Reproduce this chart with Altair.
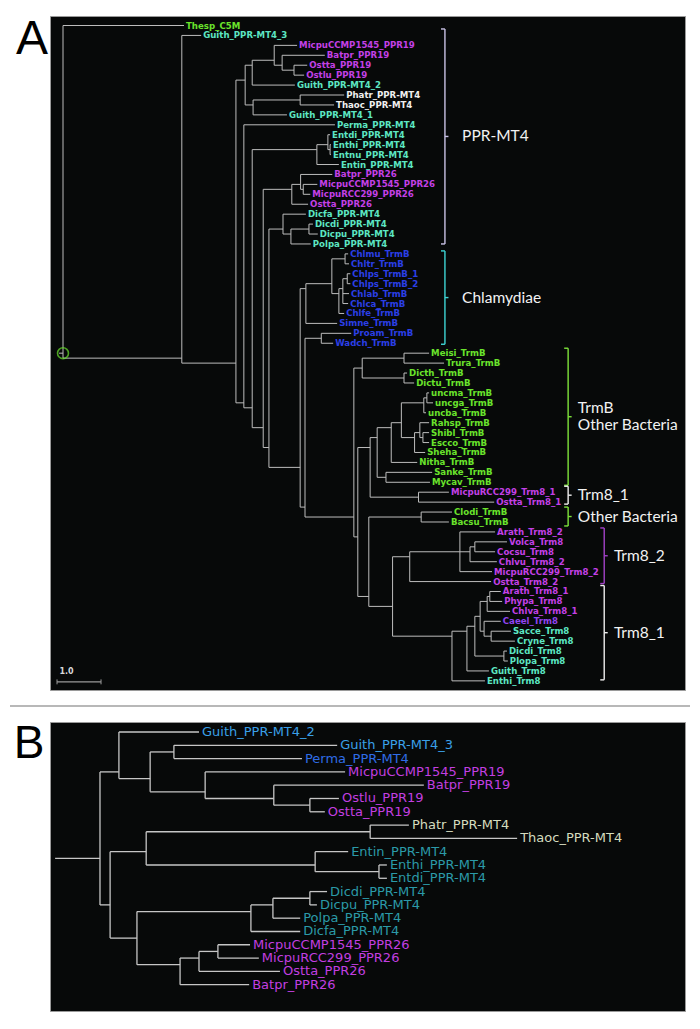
import altair as alt
import pandas as pd

# ---------------------------------------------------------------- data
# internal node = N(depth, children...), leaf = "name:depth"
# depth = distance from the root, in units of the 1.0 scale bar
def N(depth, *kids):
    return (depth, kids)

# ---- panel A, built clade by clade
A_PPR19 = N(4.80, "MicpuCCMP1545_PPR19:5.32",
            N(4.98, "Batpr_PPR19:5.95",
              N(5.25, "Ostta_PPR19:5.55", "Ostlu_PPR19:5.48")))
A_G1 = N(4.14,
         N(4.30, A_PPR19, "Guith_PPR-MT4_2:5.27"),
         N(4.32, N(5.39, "Phatr_PPR-MT4:6.39", "Thaoc_PPR-MT4:6.16"), "Guith_PPR-MT4_1:5.09"))
A_ENT = N(5.77,
          N(6.02, "Entdi_PPR-MT4:6.07", N(6.07, "Enthi_PPR-MT4:6.09", "Entnu_PPR-MT4:6.09")),
          "Entin_PPR-MT4:6.27")
A_PPR26 = N(5.20,
            N(5.40, "Batpr_PPR26:6.12", N(5.46, "MicpuCCMP1545_PPR26:5.78", "MicpuRCC299_PPR26:5.62")),
            "Ostta_PPR26:5.57")
A_DIC = N(5.00, "Dicfa_PPR-MT4:5.52",
          N(5.18, N(5.59, "Dicdi_PPR-MT4:5.68", "Dicpu_PPR-MT4:5.79"), "Polpa_PPR-MT4:5.63"))
A_CHL = N(5.52,
          N(6.11,
            N(6.41, "Chlmu_TrmB:6.48", "Chltr_TrmB:6.50"),
            N(6.27,
              N(6.36, N(6.46, "Chlps_TrmB_1:6.53", "Chlps_TrmB_2:6.53"), "Chlab_TrmB:6.50", "Chlca_TrmB:6.48"),
              "Chlfe_TrmB:6.39")),
          "Simne_TrmB:6.23")
A_MD = N(6.80, N(7.75, "Meisi_TrmB:8.32", "Trura_TrmB:8.66"),
         N(7.75, "Dicth_TrmB:7.82", "Dictu_TrmB:7.98"))
A_ENTERO = N(7.14,
             N(7.46,
               N(7.69,
                 N(8.20, N(8.27, "uncma_TrmB:8.32", "uncga_TrmB:8.41"), "uncba_TrmB:8.25"),
                 N(7.99, N(8.11, "Rahsp_TrmB:8.32", N(8.18, "Shibl_TrmB:8.32", "Escco_TrmB:8.32")),
                   "Sheha_TrmB:8.23")),
               "Nitha_TrmB:8.05"),
             N(7.34, "Sanke_TrmB:8.39", "Mycav_TrmB:8.34"))
A_TRM81 = N(8.08, "MicpuRCC299_Trm8_1:8.77", "Ostta_Trm8_1:9.80")
A_TRM82 = N(7.88,
            N(9.02, "Arath_Trm8_2:9.82",
              N(9.25, N(9.36, "Volca_Trm8:10.09", "Cocsu_Trm8:9.82"), "Chlvu_Trm8_2:9.86"),
              "MicpuRCC299_Trm8_2:9.75"),
            "Ostta_Trm8_2:9.73")
A_TRM8B = N(8.84,
            N(9.18,
              N(9.36,
                N(9.48,
                  N(9.64, N(9.70, "Arath_Trm8_1:9.95", "Phypa_Trm8:9.98"), "Chlva_Trm8_1:10.16"),
                  N(9.57, "Caeel_Trm8:9.95", N(9.73, "Sacce_Trm8:10.18", "Cryne_Trm8:10.27"))),
                N(10.02, "Dicdi_Trm8:10.09", "Plopa_Trm8:10.11")),
              "Guith_Trm8:9.68"),
            "Enthi_Trm8:9.59")
A_BACT = N(6.61, A_MD,
           N(6.70,
             N(6.98, A_ENTERO, A_TRM81),
             N(6.95, N(8.14, "Clodi_TrmB:8.84", "Bacsu_TrmB:8.77"),
               N(7.49, A_TRM82, A_TRM8B))))
A_TRMG = N(5.39, A_CHL, N(5.50, N(5.87, "Proam_TrmB:6.55", "Wadch_TrmB:6.14"), A_BACT))
TREE_A = N(0.00, "Thesp_C5M:2.75",
           N(2.70, "Guith_PPR-MT4_3:3.14",
             N(3.93, A_G1,
               N(4.11, "Perma_PPR-MT4:6.18",
                 N(4.30, A_ENT,
                   N(4.55, A_PPR26,
                     N(4.68, A_DIC, A_TRMG)))))))

# ---- panel B
B_UP = N(0.43, "Guith_PPR-MT4_2:2.25",
         N(1.14,
           N(1.68, "Guith_PPR-MT4_3:5.39", "Perma_PPR-MT4:4.59"),
           N(2.39, "MicpuCCMP1545_PPR19:5.57",
             N(3.95, "Batpr_PPR19:7.36", N(4.77, "Ostlu_PPR19:5.43", "Ostta_PPR19:5.11")))))
B_MID = N(1.05,
          N(6.14, "Phatr_PPR-MT4:7.02", "Thaoc_PPR-MT4:9.48"),
          N(4.89, "Entin_PPR-MT4:5.64", N(6.34, "Enthi_PPR-MT4:6.52", "Entdi_PPR-MT4:6.52")))
B_LOW = N(0.84,
          N(3.43, N(3.93, N(4.77, "Dicdi_PPR-MT4:5.16", "Dicpu_PPR-MT4:4.93"), "Polpa_PPR-MT4:4.55"),
            "Dicfa_PPR-MT4:4.55"),
          N(1.82, N(2.25, N(2.68, "MicpuCCMP1545_PPR26:3.41", "MicpuRCC299_PPR26:3.61"),
                    "Ostta_PPR26:4.09"),
            "Batpr_PPR26:3.39"))
TREE_B = N(0.00, B_UP, N(0.23, B_MID, B_LOW))

# colour groups of the leaves
A_GREEN = ["Thesp_C5M", "Meisi_TrmB", "Trura_TrmB", "Dicth_TrmB", "Dictu_TrmB",
           "uncma_TrmB", "uncga_TrmB", "uncba_TrmB", "Rahsp_TrmB", "Shibl_TrmB",
           "Escco_TrmB", "Sheha_TrmB", "Nitha_TrmB", "Sanke_TrmB", "Mycav_TrmB",
           "Clodi_TrmB", "Bacsu_TrmB"]
A_BLUE = ["Chlmu_TrmB", "Chltr_TrmB", "Chlps_TrmB_1", "Chlps_TrmB_2", "Chlab_TrmB",
          "Chlca_TrmB", "Chlfe_TrmB", "Simne_TrmB", "Proam_TrmB", "Wadch_TrmB"]
A_WHITE = ["Phatr_PPR-MT4", "Thaoc_PPR-MT4"]
A_VIOLET = ["Caeel_Trm8"]
A_MAGENTA = ["MicpuCCMP1545_PPR19", "Batpr_PPR19", "Ostta_PPR19", "Ostlu_PPR19",
             "Batpr_PPR26", "MicpuCCMP1545_PPR26", "MicpuRCC299_PPR26", "Ostta_PPR26",
             "MicpuRCC299_Trm8_1", "Ostta_Trm8_1", "Arath_Trm8_2", "Volca_Trm8",
             "Cocsu_Trm8", "Chlvu_Trm8_2", "MicpuRCC299_Trm8_2", "Ostta_Trm8_2",
             "Arath_Trm8_1", "Phypa_Trm8", "Chlva_Trm8_1"]
B_LIGHTBLUE = ["Guith_PPR-MT4_2", "Guith_PPR-MT4_3"]
B_BLUE = ["Perma_PPR-MT4"]
B_MAGENTA = ["MicpuCCMP1545_PPR19", "Batpr_PPR19", "Ostlu_PPR19", "Ostta_PPR19",
             "MicpuCCMP1545_PPR26", "MicpuRCC299_PPR26", "Ostta_PPR26", "Batpr_PPR26"]
B_PALE = ["Phatr_PPR-MT4", "Thaoc_PPR-MT4"]

# clade brackets of panel A: label lines, top / bottom (in leaf rows), column
BRACKET_LABELS = [["PPR-MT4"], ["Chlamydiae"], ["TrmB", "Other Bacteria"], ["Trm8_1"],
                  ["Other Bacteria"], ["Trm8_2"], ["Trm8_1"]]
BRACKET_Y0 = [0.35, 22.7, 32.5, 46.4, 48.5, 50.6, 56.4]
BRACKET_Y1 = [22.0, 32.1, 46.3, 48.2, 50.4, 56.2, 65.9]
BRACKET_X = [8.68, 8.68, 11.48, 11.48, 11.48, 12.30, 12.30]
BRACKET_TEXT_X = [9.07, 9.07, 11.70, 11.70, 11.70, 12.52, 12.52]
SCALE_BAR = 1.0

# ---------------------------------------------------------------- styles
COL_A = {"green": "#6ae32c", "blue": "#2b3fe6", "white": "#f0f0f0", "violet": "#9044f0",
         "magenta": "#c340e6", "aqua": "#5de6c3"}
COL_B = {"lightblue": "#3aa0e8", "blue": "#2f6de6", "magenta": "#c23fe0",
         "pale": "#d5dcbf", "teal": "#2b9aa8"}
BRACKET_COL = ["#c9c2e6", "#3fd6d6", "#7de23a", "#eeeeee", "#7de23a", "#a242c8", "#eeeeee"]
LINE_A = "#bdbdbd"
LINE_B = "#c6c6c6"
BG = "#070909"


def build(tree):
    leaves, segs = [], []

    def walk(n):
        if isinstance(n, str):
            name, d = n.rsplit(":", 1)
            leaves.append({"name": name, "x": float(d), "y": len(leaves)})
            return float(d), [len(leaves) - 1]
        d, kids = n
        res = [walk(k) for k in kids]
        ys = [sum(ii) / len(ii) for _, ii in res]
        for (cd, _), cy in zip(res, ys):
            segs.append({"x": d, "x2": cd, "y": cy, "y2": cy})
        segs.append({"x": d, "x2": d, "y": min(ys), "y2": max(ys)})
        return d, [i for _, ii in res for i in ii]

    _, idx = walk(tree)
    return pd.DataFrame(leaves), pd.DataFrame(segs), sum(idx) / len(idx)


leaves_a, segs_a, root_ya = build(TREE_A)
leaves_b, segs_b, root_yb = build(TREE_B)


def colour_a(name):
    for grp, lst in (("green", A_GREEN), ("blue", A_BLUE), ("white", A_WHITE),
                     ("violet", A_VIOLET), ("magenta", A_MAGENTA)):
        if name in lst:
            return COL_A[grp]
    return COL_A["aqua"]


def colour_b(name):
    for grp, lst in (("lightblue", B_LIGHTBLUE), ("blue", B_BLUE),
                     ("magenta", B_MAGENTA), ("pale", B_PALE)):
        if name in lst:
            return COL_B[grp]
    return COL_B["teal"]


leaves_a["col"] = leaves_a["name"].map(colour_a)
leaves_b["col"] = leaves_b["name"].map(colour_b)

# bracket geometry
brk_rows, brk_txt = [], []
for lab, y0, y1, x, tx, c in zip(BRACKET_LABELS, BRACKET_Y0, BRACKET_Y1, BRACKET_X,
                                 BRACKET_TEXT_X, BRACKET_COL):
    mid = (y0 + y1) / 2
    brk_rows += [
        {"x": x, "x2": x, "y": y0, "y2": y1, "col": c},
        {"x": x - 0.09, "x2": x, "y": y0, "y2": y0, "col": c},
        {"x": x - 0.09, "x2": x, "y": y1, "y2": y1, "col": c},
        {"x": x, "x2": x + 0.08, "y": mid, "y2": mid, "col": c},
    ]
    n = len(lab)
    for k, t in enumerate(lab):
        brk_txt.append({"x": tx, "y": mid + (k - (n - 1) / 2) * 1.75, "t": t})
brk_rows = pd.DataFrame(brk_rows)
brk_txt = pd.DataFrame(brk_txt)

# ---------------------------------------------------------------- panel A
XA = alt.Scale(domain=[-0.2955, 14.136], nice=False, zero=False)
YA = alt.Scale(domain=[-0.957, 66.92], reverse=True, nice=False, zero=False)


def enc_rule(xs, ys):
    return dict(x=alt.X("x:Q", scale=xs, axis=None), x2="x2:Q",
                y=alt.Y("y:Q", scale=ys, axis=None), y2="y2:Q")


base_a = alt.Chart(segs_a).mark_rule(color=LINE_A, strokeWidth=1).encode(**enc_rule(XA, YA))

root_a = pd.DataFrame([{"x": -0.09, "x2": 0.0, "y": root_ya, "y2": root_ya}])
root_stub_a = alt.Chart(root_a).mark_rule(color=LINE_A, strokeWidth=1).encode(**enc_rule(XA, YA))
root_ring = alt.Chart(root_a).mark_point(shape="circle", filled=False, size=120,
                                         color="#6ae32c", strokeWidth=1.6).encode(
    x=alt.X("x2:Q", scale=XA, axis=None), y=alt.Y("y:Q", scale=YA, axis=None))

labels_a = alt.Chart(leaves_a).mark_text(align="left", baseline="middle", dx=2,
                                         font="DejaVu Sans", fontSize=8.6,
                                         fontWeight="bold").encode(
    x=alt.X("x:Q", scale=XA, axis=None), y=alt.Y("y:Q", scale=YA, axis=None),
    text="name:N", color=alt.Color("col:N", scale=None))

brackets = alt.Chart(brk_rows).mark_rule(strokeWidth=1.4).encode(
    **enc_rule(XA, YA), color=alt.Color("col:N", scale=None))
brk_text = alt.Chart(brk_txt).mark_text(align="left", baseline="middle", font="Lato",
                                        fontSize=15.5, color="#f2f2f2").encode(
    x=alt.X("x:Q", scale=XA, axis=None), y=alt.Y("y:Q", scale=YA, axis=None), text="t:N")

sb = pd.DataFrame([{"x": -0.136, "x2": -0.136 + SCALE_BAR, "y": 66.1, "y2": 66.1}])
sb_ticks = pd.DataFrame([{"x": -0.136, "x2": -0.136, "y": 65.85, "y2": 66.35},
                         {"x": -0.136 + SCALE_BAR, "x2": -0.136 + SCALE_BAR, "y": 65.85, "y2": 66.35}])
sb_line = alt.Chart(sb).mark_rule(color="#9a9a9a", strokeWidth=1.3).encode(**enc_rule(XA, YA))
sb_tick = alt.Chart(sb_ticks).mark_rule(color="#9a9a9a", strokeWidth=1).encode(**enc_rule(XA, YA))
sb_text = alt.Chart(pd.DataFrame([{"x": -0.08, "y": 65.5, "t": f"{SCALE_BAR:.1f}"}])).mark_text(
    align="left", baseline="bottom", font="DejaVu Sans", fontSize=8, fontWeight="bold",
    color="#d8d8d8").encode(x=alt.X("x:Q", scale=XA, axis=None),
                            y=alt.Y("y:Q", scale=YA, axis=None), text="t:N")

tag_a = alt.Chart(pd.DataFrame([{"t": "A"}])).mark_text(
    align="center", baseline="top", font="Liberation Sans", fontSize=48,
    color="#000000").encode(x=alt.value(-18), y=alt.value(0), text="t:N")

panel_a = alt.layer(base_a, root_stub_a, root_ring, labels_a, brackets, brk_text,
                    sb_line, sb_tick, sb_text, tag_a).properties(width=635, height=674)

# ---------------------------------------------------------------- panel B
XB = alt.Scale(domain=[-1.136, 13.295], nice=False, zero=False)
YB = alt.Scale(domain=[-0.752, 20.98], reverse=True, nice=False, zero=False)

base_b = alt.Chart(segs_b).mark_rule(color=LINE_B, strokeWidth=1.3).encode(**enc_rule(XB, YB))
root_b = pd.DataFrame([{"x": -1.02, "x2": 0.0, "y": root_yb, "y2": root_yb}])
root_stub_b = alt.Chart(root_b).mark_rule(color=LINE_B, strokeWidth=1.3).encode(**enc_rule(XB, YB))
labels_b = alt.Chart(leaves_b).mark_text(align="left", baseline="middle", dx=3,
                                         font="DejaVu Sans", fontSize=13).encode(
    x=alt.X("x:Q", scale=XB, axis=None), y=alt.Y("y:Q", scale=YB, axis=None),
    text="name:N", color=alt.Color("col:N", scale=None))
sep = alt.Chart(pd.DataFrame([{"t": ""}])).mark_rule(color="#a0a0a0", strokeWidth=1.6).encode(
    x=alt.value(-40), x2=alt.value(640), y=alt.value(-16))
tag_b = alt.Chart(pd.DataFrame([{"t": "B"}])).mark_text(
    align="center", baseline="top", font="Liberation Sans", fontSize=46,
    color="#000000").encode(x=alt.value(-21), y=alt.value(0), text="t:N")

panel_b = alt.layer(base_b, root_stub_b, labels_b, sep, tag_b).properties(width=635, height=289)

chart = alt.vconcat(panel_a, panel_b, spacing=32, bounds="flush").resolve_scale(
    x="independent", y="independent").properties(
    padding={"left": 0, "top": 7, "right": 0, "bottom": 0}).configure(
    background="#ffffff").configure_view(fill=BG, stroke="#9a9a9a", strokeWidth=1)

chart.save("out.html", embed_options={"renderer": "svg", "actions": False})
